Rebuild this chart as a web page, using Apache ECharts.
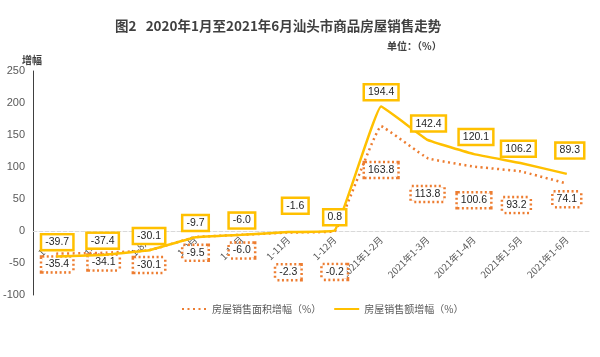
<!DOCTYPE html>
<html><head><meta charset="utf-8">
<script src="https://cdn.jsdelivr.net/npm/echarts@6/dist/echarts.min.js"></script>
<style>html,body{margin:0;padding:0;background:#fff}#c{width:600px;height:357px}</style>
</head><body><div id="c"></div>
<script>
const categories = ["1-6月","1-7月","1-8月","1-9月","1-10月","1-11月","1-12月","2021年1-2月","2021年1-3月","2021年1-4月","2021年1-5月","2021年1-6月"];
const areaGrowth = [-35.4,-34.1,-30.1,-9.5,-6.0,-2.3,-0.2,163.8,113.8,100.6,93.2,74.1];
const amountGrowth = [-39.7,-37.4,-30.1,-9.7,-6.0,-1.6,0.8,194.4,142.4,120.1,106.2,89.3];
const yTicks = {min:-100, max:250, interval:50};
const seriesNames = ["房屋销售面积增幅（%）","房屋销售额增幅（%）"];

// label offsets (styling only)
const areaLabelOffset = [[1,11],[1,10],[0,15],[0,16],[0,16],[0,40],[0,41],[0,44],[0,36],[0,34],[-4,34],[0,16]];
const amountLabelOffset = [[1,-14],[0,-14],[0,-14],[0,-14],[0,-14],[7,-26],[0,-13],[0,-14],[1,-16],[2,-17],[-2,-14],[3,-23]];

const FONT = "'Liberation Sans','Noto Sans CJK SC',sans-serif";
const chart = echarts.init(document.getElementById('c'));

chart.setOption({
  animation:false,
  textStyle:{fontFamily:FONT},
  title:[
    {text:"图2   2020年1月至2021年6月汕头市商品房屋销售走势", left:110, top:14,
     textStyle:{fontSize:13.5, fontWeight:'bold', color:'#404040', fontFamily:"'Noto Sans CJK SC',sans-serif"}},
    {text:"单位：（%）", left:382, top:36,
     textStyle:{fontSize:10, fontWeight:'bold', color:'#404040', fontFamily:"'Noto Sans CJK SC',sans-serif"}},
    {text:"增幅", left:17, top:50,
     textStyle:{fontSize:10, fontWeight:'bold', color:'#404040', fontFamily:"'Noto Sans CJK SC',sans-serif"}}
  ],
  legend:{
    bottom:38, left:176, itemGap:12, itemWidth:25, itemHeight:8,
    itemStyle:{opacity:0},
    textStyle:{fontSize:10, color:'#595959', fontFamily:"'Noto Sans CJK SC',sans-serif"},
    data:seriesNames
  },
  grid:{left:33, right:10, top:71, bottom:62},
  xAxis:{
    type:'category', data:categories, boundaryGap:true,
    axisLine:{onZero:true, lineStyle:{color:'#D9D9D9', type:'dashed', width:1}},
    axisTick:{show:false},
    axisLabel:{rotate:45, color:'#595959', fontSize:9.5, margin:-57, interval:0,
      fontFamily:"'Noto Sans CJK SC',sans-serif"}
  },
  yAxis:{
    type:'value', min:yTicks.min, max:yTicks.max, interval:yTicks.interval,
    axisLine:{show:true, lineStyle:{color:'#404040', width:1}},
    axisTick:{show:false},
    splitLine:{show:false},
    axisLabel:{color:'#595959', fontSize:11, margin:8}
  },
  series:[
    {
      name:seriesNames[0], type:'line', data:areaGrowth,
      smooth:0.08, symbol:'circle', symbolSize:0.5, showSymbol:true,
      lineStyle:{color:'#ED7D31', width:2.5, type:[2,3.5]},
      itemStyle:{color:'rgba(237,125,49,0)'},
      label:{show:true, position:'top', distance:0, color:'#262626', fontSize:10.5,
        backgroundColor:'#fff', borderColor:'#ED7D31', borderWidth:2.5, borderType:[2,2.5],
        padding:[2,3,1,3], formatter:p=>p.value.toFixed(1), verticalAlign:'middle'},
      labelLayout:p=>({dx:areaLabelOffset[p.dataIndex][0], dy:areaLabelOffset[p.dataIndex][1], hideOverlap:false}),
      z:2
    },
    {
      name:seriesNames[1], type:'line', data:amountGrowth,
      smooth:0.08, symbol:'circle', symbolSize:0.5, showSymbol:true,
      lineStyle:{color:'#FFC000', width:2.5},
      itemStyle:{color:'rgba(255,192,0,0)'},
      label:{show:true, position:'top', distance:0, color:'#262626', fontSize:10.5,
        backgroundColor:'#fff', borderColor:'#FFC000', borderWidth:2.5,
        padding:[2,3,1,3], formatter:p=>p.value.toFixed(1), verticalAlign:'middle'},
      labelLayout:p=>({dx:amountLabelOffset[p.dataIndex][0], dy:amountLabelOffset[p.dataIndex][1], hideOverlap:false}),
      z:3
    }
  ]
});
</script>
</body></html>
